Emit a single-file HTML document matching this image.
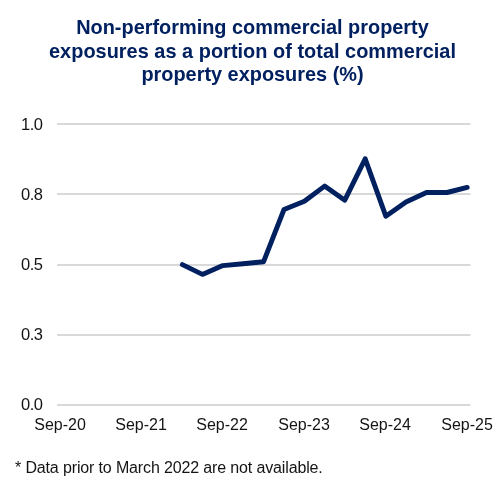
<!DOCTYPE html>
<html><head><meta charset="utf-8">
<style>
html,body{margin:0;padding:0;background:#fff;}
body{width:500px;height:502px;position:relative;overflow:hidden;font-family:"Liberation Sans",sans-serif;}
.t{position:absolute;left:0;width:505px;text-align:center;font-weight:bold;font-size:19.9px;color:#002060;line-height:23.7px;white-space:nowrap;}
.yl{position:absolute;font-size:16.5px;color:#141414;white-space:nowrap;line-height:1;letter-spacing:-0.5px;}
.xl{position:absolute;font-size:16px;color:#141414;white-space:nowrap;line-height:1;width:80px;text-align:center;}
.fn{position:absolute;left:15px;top:460px;font-size:16px;color:#141414;white-space:nowrap;line-height:1;letter-spacing:-0.14px;}
svg{position:absolute;left:0;top:0;}
.t,.yl,.xl,.fn{will-change:transform;}
</style></head><body>
<div class="t" style="top:15.7px">Non-performing commercial property</div>
<div class="t" style="top:39.9px;letter-spacing:0.03px">exposures as a portion of total commercial</div>
<div class="t" style="top:63.1px">property exposures (%)</div>
<svg width="500" height="502" viewBox="0 0 500 502">
<g fill="#d9d9d9">
<rect x="57" y="123" width="413.5" height="2"/>
<rect x="57" y="193" width="413.5" height="2"/>
<rect x="57" y="264" width="413.5" height="2"/>
<rect x="57" y="334" width="413.5" height="2"/>
<rect x="57" y="404" width="413.5" height="2"/>
</g>
<polyline fill="none" stroke="#002060" stroke-width="4.9" stroke-linejoin="round" stroke-linecap="round"
points="182.4,264.6 202.4,274.4 222.8,265.6 243.1,263.7 263.5,261.8 284,209.5 304.4,201.2 324.6,186.1 344.8,200.2 365.2,158.8 385.8,216.2 406,202 426.5,192.5 447,192.5 467.2,187.4"/>
</svg>
<div class="yl" style="left:20.6px;top:115.8px">1.0</div>
<div class="yl" style="left:20.6px;top:185.8px">0.8</div>
<div class="yl" style="left:20.6px;top:255.8px">0.5</div>
<div class="yl" style="left:20.6px;top:325.8px">0.3</div>
<div class="yl" style="left:20.6px;top:395.8px">0.0</div>
<div class="xl" style="left:19.7px;top:417.3px">Sep-20</div>
<div class="xl" style="left:100.8px;top:417.3px">Sep-21</div>
<div class="xl" style="left:182.3px;top:417.3px">Sep-22</div>
<div class="xl" style="left:263.8px;top:417.3px">Sep-23</div>
<div class="xl" style="left:345.3px;top:417.3px">Sep-24</div>
<div class="xl" style="left:427.3px;top:417.3px">Sep-25</div>
<div class="fn">* Data prior to March 2022 are not available.</div>
</body></html>
